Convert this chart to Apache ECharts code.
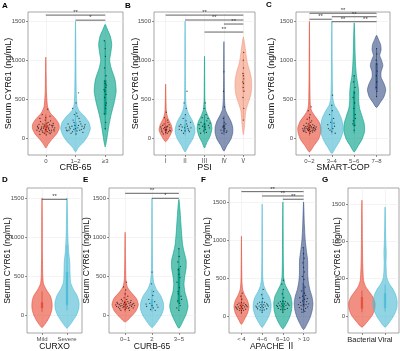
<!DOCTYPE html>
<html><head><meta charset="utf-8">
<script src="https://cdn.jsdelivr.net/npm/echarts@6/dist/echarts.min.js"></script>
<style>html,body{margin:0;padding:0;background:#fff}#c{width:400px;height:351px}</style>
</head><body><div id="c"></div>
<script>
// ================= DATA =================
// categories
const catsA = ['0','1~2','≥3'];
const catsB = ['Ⅰ','Ⅱ','Ⅲ','Ⅳ','Ⅴ'];
const catsC = ['0~2','3~4','5~6','7~8'];
const catsD = ['Mild','Severe'];
const catsE = ['0~1','2','3~5'];
const catsF = ['< 4','4~6','6~10','> 10'];
const catsG = ['Bacterial','Viral'];
const yTicks = [0,500,1000,1500];

// violin profiles: [value (ng/mL), half width (category units)]
const violinA = [
 [[-130,0],[-80,0.08],[-20,0.2],[50,0.36],[120,0.45],[180,0.44],[250,0.32],[320,0.15],[400,0.06],[500,0.035],[600,0.02],[800,0.012],[1040,0]],
 [[-180,0],[-120,0.1],[-50,0.28],[30,0.42],[120,0.5],[200,0.45],[280,0.3],[350,0.12],[420,0.05],[600,0.025],[900,0.015],[1200,0.01],[1500,0]],
 [[-115,0],[0,0.06],[150,0.12],[300,0.2],[450,0.3],[600,0.37],[750,0.33],[900,0.2],[1000,0.15],[1100,0.19],[1200,0.22],[1300,0.18],[1400,0.07],[1460,0]]
];
const violinB = [
 [[-50,0],[20,0.2],[100,0.34],[170,0.28],[250,0.12],[330,0.04],[450,0.02],[690,0]],
 [[-180,0],[-100,0.18],[-20,0.38],[60,0.5],[130,0.5],[220,0.38],[300,0.2],[380,0.08],[500,0.03],[800,0.015],[1200,0.01],[1500,0]],
 [[-130,0],[-60,0.12],[30,0.3],[120,0.38],[200,0.33],[280,0.18],[360,0.06],[500,0.02],[800,0.01],[1050,0]],
 [[-170,0],[-100,0.15],[-20,0.35],[60,0.45],[140,0.45],[220,0.35],[300,0.18],[370,0.07],[500,0.03],[800,0.015],[1240,0]],
 [[40,0],[150,0.06],[250,0.09],[350,0.13],[450,0.25],[550,0.38],[650,0.43],[750,0.42],[850,0.34],[950,0.22],[1050,0.15],[1150,0.1],[1250,0.04],[1300,0]]
];
const violinC = [
 [[-180,0],[-100,0.2],[-20,0.4],[60,0.5],[130,0.52],[210,0.42],[290,0.22],[360,0.08],[450,0.035],[700,0.02],[1000,0.012],[1500,0]],
 [[-200,0],[-120,0.18],[-40,0.35],[50,0.47],[150,0.5],[250,0.43],[350,0.27],[420,0.12],[500,0.05],[700,0.025],[1000,0.015],[1500,0]],
 [[-180,0],[-100,0.18],[-20,0.35],[80,0.46],[180,0.45],[280,0.35],[380,0.24],[480,0.2],[580,0.2],[680,0.17],[800,0.1],[950,0.06],[1100,0.04],[1300,0.025],[1480,0]],
 [[390,0],[450,0.15],[530,0.33],[620,0.41],[700,0.33],[780,0.2],[850,0.2],[930,0.28],[1000,0.22],[1060,0.14],[1130,0.2],[1200,0.18],[1270,0.08],[1320,0]]
];
const violinD = [
 [[-160,0],[-80,0.2],[0,0.33],[80,0.4],[160,0.4],[240,0.34],[320,0.18],[400,0.06],[500,0.03],[800,0.015],[1200,0.01],[1500,0]],
 [[-170,0],[-90,0.2],[0,0.38],[80,0.47],[160,0.48],[250,0.4],[330,0.25],[420,0.14],[550,0.12],[680,0.11],[800,0.07],[1000,0.035],[1250,0.02],[1500,0]]
];
const violinE = [
 [[-90,0],[-30,0.2],[50,0.4],[130,0.49],[210,0.42],[290,0.22],[360,0.08],[450,0.03],[700,0.015],[1060,0]],
 [[-160,0],[-90,0.18],[0,0.35],[80,0.43],[160,0.42],[250,0.32],[330,0.16],[420,0.06],[550,0.025],[900,0.012],[1200,0.008],[1500,0]],
 [[-170,0],[-80,0.15],[20,0.28],[110,0.34],[200,0.3],[300,0.22],[400,0.19],[500,0.22],[600,0.27],[700,0.27],[800,0.2],[900,0.14],[1050,0.1],[1200,0.07],[1350,0.04],[1480,0]]
];
const violinF = [
 [[-110,0],[-40,0.15],[40,0.3],[120,0.36],[200,0.3],[280,0.15],[350,0.06],[450,0.025],[700,0.012],[1050,0]],
 [[-150,0],[-80,0.18],[0,0.33],[80,0.42],[160,0.43],[240,0.36],[320,0.2],[400,0.08],[500,0.03],[800,0.015],[1150,0.01],[1470,0]],
 [[-170,0],[-90,0.2],[0,0.35],[80,0.42],[170,0.44],[260,0.38],[340,0.24],[420,0.1],[520,0.04],[800,0.02],[1150,0.012],[1500,0]],
 [[-180,0],[-100,0.18],[-10,0.33],[80,0.42],[170,0.45],[260,0.4],[350,0.3],[450,0.23],[550,0.2],[650,0.2],[750,0.19],[850,0.14],[1000,0.08],[1200,0.04],[1500,0]]
];
const violinG = [
 [[-150,0],[-70,0.25],[10,0.45],[90,0.55],[170,0.57],[250,0.48],[330,0.3],[400,0.15],[480,0.07],[700,0.035],[1000,0.02],[1300,0.012],[1550,0]],
 [[-150,0],[-70,0.22],[20,0.4],[100,0.5],[190,0.52],[280,0.46],[360,0.34],[430,0.18],[520,0.07],[700,0.04],[850,0.05],[1000,0.03],[1250,0.015],[1460,0]]
];

// inner box plots: [low, q1, median, q3, high]
const boxA = [[30,80,125,180,300],[30,85,135,200,350],[100,300,550,740,1250]];
const boxB = [[40,80,110,150,250],[30,80,120,170,300],[50,100,140,190,300],[40,80,120,170,280],[230,600,720,830,1100]];
const boxC = [[30,80,120,170,280],[40,100,150,250,420],[60,150,250,600,800],[530,620,800,960,1150]];
const boxD = [[40,90,120,160,300],[60,130,200,550,900]];
const boxE = [[40,90,130,180,300],[40,90,130,200,330],[60,150,300,600,850]];
const boxF = [[40,80,120,170,280],[40,90,130,180,300],[40,90,140,200,340],[40,120,200,400,900]];
const boxG = [[50,100,160,250,340],[60,110,180,300,420]];

// jittered observations: [jitter (category units), value]
const pointsA = [
 [[-0.22,85],[-0.15,120],[-0.05,60],[0.04,140],[0.12,95],[0.2,160],[0.27,110],[-0.28,150],[-0.1,180],[0.08,200],[0.18,75],[-0.2,45],[0,105],[0.1,130],[-0.12,90],[0.25,185],[-0.25,120],[0.15,55],[-0.05,165],[0.05,80],[-0.18,210],[0.22,140],[-0.08,125],[0.13,170],[-0.3,100],[0.3,130],[0.02,40],[-0.14,140],[0.09,115],[-0.02,230],[0.19,100],[-0.23,175],[0.07,155],[-0.1,70],[0.16,220],[0.28,90],[-0.17,105],[0.04,190],[-0.06,145],[0.11,65],[-0.26,135],[0.24,160],[0,260],[-0.12,300],[0.06,370],[0.14,280],[-0.2,250]],
 [[-0.3,100],[-0.2,140],[-0.1,80],[0,120],[0.1,160],[0.2,110],[0.3,140],[-0.25,180],[-0.15,60],[-0.05,200],[0.05,90],[0.15,210],[0.25,70],[-0.32,130],[0.32,170],[-0.12,150],[0.08,130],[0.18,180],[-0.22,100],[0.02,50],[-0.08,230],[0.12,250],[0.28,120],[-0.18,120],[0.22,150],[-0.02,160],[0.06,280],[-0.28,90],[0.14,100],[-0.06,110],[0.04,320],[-0.1,380],[0.02,450],[0.1,580],[-0.04,300]],
 [[0,120],[0.02,200],[-0.03,310],[0.01,380],[0.04,450],[-0.02,520],[0.03,560],[-0.04,620],[0.02,650],[0,700],[-0.01,730],[0.03,800],[-0.02,900],[0.01,1050],[0,1150],[-0.03,1250],[0.02,420],[-0.01,600],[0.04,680]]
];
const pointsB = [
 [[-0.2,90],[-0.1,120],[0,70],[0.1,150],[0.2,100],[-0.15,160],[0.05,110],[0.15,80],[-0.05,135],[0.22,130],[-0.22,115],[0.08,60],[-0.08,180],[0.12,200],[-0.18,75],[0.02,95],[0.18,170],[-0.12,50],[0.06,140],[-0.02,105],[0.25,90],[-0.25,140],[0.1,230],[-0.06,260],[0.03,330]],
 [[-0.3,110],[-0.15,140],[0,90],[0.15,120],[0.3,130],[-0.22,170],[0.08,180],[0.22,80],[-0.08,60],[0.05,220],[-0.3,150],[0.28,200],[-0.1,250],[0.12,150],[-0.02,130],[0.18,100],[-0.18,95],[0.02,300],[-0.05,450],[0.06,380],[0.1,600]],
 [[-0.25,120],[-0.1,150],[0.05,110],[0.2,160],[-0.18,200],[0.12,220],[0,180],[0.25,130],[-0.05,90],[0.1,70],[-0.2,60],[0.18,250],[-0.12,260],[0.02,140],[-0.28,170],[0.28,190],[0.08,300],[-0.02,380],[0.04,450]],
 [[-0.15,100],[-0.05,140],[0.05,120],[0.15,90],[-0.1,60],[0.1,180],[0,150],[0.02,200],[-0.03,250],[0.12,70],[0.03,400],[-0.02,600],[0,850]],
 [[0,230],[0.02,380],[-0.02,520],[0.03,600],[-0.01,650],[0.01,700],[-0.03,720],[0.02,760],[0,800],[-0.02,830],[0.01,900],[0,1000],[0.02,1100]]
];
const pointsC = [
 [[-0.3,120],[-0.2,90],[-0.1,150],[0,110],[0.1,130],[0.2,100],[0.3,140],[-0.25,160],[-0.15,70],[-0.05,180],[0.05,85],[0.15,170],[0.25,120],[-0.28,100],[0.28,110],[-0.12,125],[0.08,145],[0.18,135],[-0.22,130],[0.02,60],[-0.08,105],[0.12,95],[0.22,155],[-0.18,145],[0.16,115],[-0.02,135],[0.06,200],[-0.26,85],[0.14,75],[-0.06,120],[0.04,160],[-0.14,190],[0.24,90],[-0.04,95],[0.1,220],[-0.1,240],[0,260],[0.2,130],[-0.2,115],[0.03,300],[-0.05,350],[0.08,400]],
 [[-0.15,120],[0,80],[0.12,150],[-0.05,200],[0.08,250],[-0.1,300],[0.15,60],[0.02,350],[-0.18,170],[0.05,120],[0.1,190],[-0.08,100],[0,420],[0.03,550]],
 [[0,100],[0.03,160],[-0.04,220],[0.05,300],[-0.02,380],[0.02,450],[-0.05,520],[0.01,580],[0.04,650],[-0.03,720],[0,800],[0.06,250],[-0.06,180]],
 [[0,530],[0.02,600],[-0.02,650],[0.01,720],[-0.01,800],[0.03,860],[0,950],[-0.02,1000],[0.01,1080],[0,1150]]
];
const pointsD = [[],[]];
const pointsE = [
 [[-0.35,130],[-0.25,100],[-0.15,150],[-0.05,110],[0.05,140],[0.15,95],[0.25,130],[0.35,120],[-0.3,160],[-0.2,80],[-0.1,180],[0,70],[0.1,170],[0.2,160],[0.3,90],[-0.32,110],[0.32,150],[-0.12,120],[0.08,110],[0.18,125],[-0.22,135],[0.02,130],[-0.08,95],[0.12,85],[0.22,185],[-0.18,115],[0.28,140],[-0.02,160],[0.06,200],[-0.28,145],[0.14,150],[-0.06,140],[0.04,90],[-0.14,200],[0.24,110],[-0.04,220],[0.1,240],[-0.16,60],[0.16,60],[0,270],[0.02,320],[-0.06,360],[0.05,420]],
 [[-0.2,110],[-0.08,150],[0.05,90],[0.18,130],[-0.12,200],[0.1,170],[0,120],[0.22,100],[-0.22,140],[0.03,250],[-0.05,70],[0.12,60],[0.06,300],[-0.02,400],[0,550]],
 [[0,60],[0.05,120],[-0.05,180],[0.08,240],[-0.03,300],[0.02,350],[-0.07,420],[0.04,480],[0,520],[-0.02,580],[0.06,620],[-0.04,680],[0.01,750],[0,850],[0.03,150],[-0.08,90],[0.1,200],[-0.02,270]]
];
const pointsF = [
 [[-0.28,120],[-0.2,150],[-0.12,170],[0,180],[0.12,170],[0.2,150],[0.28,120],[-0.2,90],[-0.1,75],[0,70],[0.1,75],[0.2,90],[-0.15,120],[0,120],[0.15,120],[-0.06,140],[0.06,100],[-0.08,100],[0.08,140],[0.02,220],[-0.03,260],[0.04,300],[-0.24,105],[0.24,135],[0,40]],
 [[-0.3,130],[-0.22,160],[-0.12,180],[0,185],[0.12,180],[0.22,160],[0.3,130],[-0.22,95],[-0.1,80],[0,75],[0.1,80],[0.22,95],[-0.15,130],[0,130],[0.15,130],[-0.06,150],[0.06,110],[-0.08,110],[0.08,150],[0.03,230],[-0.02,280],[0.05,350],[-0.26,115],[0.26,145],[0,50]],
 [[-0.3,140],[-0.22,170],[-0.12,190],[0,195],[0.12,190],[0.22,170],[0.3,140],[-0.22,100],[-0.1,85],[0,80],[0.1,85],[0.22,100],[-0.15,140],[0,140],[0.15,140],[-0.06,160],[0.06,120],[-0.08,120],[0.08,160],[0.04,240],[-0.03,290],[0.02,350],[-0.05,420],[0.03,470],[-0.26,125],[0.26,155],[0,50]],
 [[-0.25,150],[-0.15,180],[-0.05,200],[0.05,220],[0.15,190],[0.25,160],[-0.2,110],[-0.1,90],[0,80],[0.1,100],[0.2,120],[-0.12,140],[0,150],[0.12,150],[-0.05,260],[0.05,300],[-0.1,330],[0.08,380],[-0.03,420],[0.02,480],[-0.06,520],[0.04,580],[0,640],[-0.04,700],[0.03,760],[0,820],[-0.02,900],[0.18,230],[-0.18,240],[0.06,60],[-0.08,50],[0.1,270]]
];
const pointsG = [[],[]];

// significance brackets: [from category, to category, value, label]
const sigA = [[1,3,1580,'**'],[2,3,1515,'*']];
const sigB = [[1,5,1580,'**'],[2,5,1517,'**'],[4,5,1465,'**'],[3,5,1362,'**']];
const sigC = [[1,4,1604,'**'],[2,4,1559,'**'],[1,2,1527,'**'],[2,3,1495,'**'],[3,4,1495,'**']];
const sigD = [[1,2,1483,'**']];
const sigE = [[1,3,1560,'**'],[2,3,1496,'*']];
const sigF = [[1,4,1636,'**'],[2,4,1579,'**'],[3,4,1536,'**']];
const sigG = [];

const yTitle = 'Serum CYR61 (ng/mL)';

// ================= STYLE / LAYOUT =================
const RED='#E64B35', CYAN='#4DBBD5', GREEN='#00A087', NAVY='#3C5488', SALMON='#F39B7F';
const FONT = '"Liberation Sans", Arial, "Noto Sans CJK SC", sans-serif';
function rgba(hex,a){const n=parseInt(hex.slice(1),16);return `rgba(${n>>16},${(n>>8)&255},${n&255},${a})`;}

const panels = [
 {letter:'A', cats:catsA, xName:'CRB-65', vio:violinA, box:boxA, pts:pointsA, sig:sigA, col:[RED,CYAN,GREEN],
  L:{left:28,top:12,width:95,height:143,ymin:-220,ymax:1620,yGap:15,xGap:8,ns:9,lx:2,ly:2}},
 {letter:'B', cats:catsB, xName:'PSI', vio:violinB, box:boxB, pts:pointsB, sig:sigB, col:[RED,CYAN,GREEN,NAVY,SALMON],
  L:{left:154,top:12,width:101,height:143,ymin:-220,ymax:1620,yGap:14,xGap:8,ns:9,lx:125,ly:2}},
 {letter:'C', cats:catsC, xName:'SMART-COP', vio:violinC, box:boxC, pts:pointsC, sig:sigC, col:[RED,CYAN,GREEN,NAVY],
  L:{left:296,top:12,width:94,height:143,ymin:-220,ymax:1620,yGap:20,xGap:8,ns:9,lx:266,ly:1}},
 {letter:'D', cats:catsD, xName:'CURXO', vio:violinD, box:boxD, pts:pointsD, sig:sigD, col:[RED,CYAN],
  L:{left:27,top:188,width:55,height:145,ymin:-231,ymax:1628,yGap:15,xGap:9,ns:8.5,lx:2,ly:176}},
 {letter:'E', cats:catsE, xName:'CURB-65', vio:violinE, box:boxE, pts:pointsE, sig:sigE, col:[RED,CYAN,GREEN],
  L:{left:109,top:188,width:86,height:145,ymin:-231,ymax:1628,yGap:18,xGap:9,ns:8.5,lx:83,ly:176}},
 {letter:'F', cats:catsF, xName:'APACHE Ⅱ', vio:violinF, box:boxF, pts:pointsF, sig:sigF, col:[RED,CYAN,GREEN,NAVY],
  L:{left:229,top:188,width:87,height:145,ymin:-224,ymax:1684,yGap:17,xGap:9,ns:8.5,lx:201,ly:176}},
 {letter:'G', cats:catsG, xName:'', vio:violinG, box:boxG, pts:pointsG, sig:sigG, col:[RED,CYAN],
  L:{left:348,top:188,width:51,height:145,ymin:-228,ymax:1714,yGap:6,xGap:9,ns:8.5,lx:322,ly:176,bigX:true}}
];

const grid=[], xAxis=[], yAxis=[], series=[], title=[];
panels.forEach((p,i)=>{
  const L=p.L, n=p.cats.length, idx=p.cats.map((c,k)=>k+1);
  grid.push({left:L.left, top:L.top, width:L.width, height:L.height, show:true, borderColor:'#8f8f8f', borderWidth:0.8, outerBoundsMode:'none', containLabel:false});
  xAxis.push({type:'value', gridIndex:i, min:0.4, max:n+0.6, position:'bottom',
    axisLine:{show:false, onZero:false},
    axisTick:{show:true, customValues:idx, length:2, lineStyle:{color:'#444', width:0.6}},
    axisLabel:{customValues:idx, formatter:v=>p.cats[Math.round(v)-1]||'', fontSize:L.bigX?7.5:6, color:L.bigX?'#222':'#4d4d4d', margin:3, fontFamily:FONT, hideOverlap:false},
    splitLine:{show:true, lineStyle:{color:'#ececec', width:0.6}},
    name:p.xName, nameLocation:'middle', nameGap:L.xGap, nameMoveOverlap:false,
    nameTextStyle:{fontSize:L.ns, color:'#111', fontFamily:FONT}});
  yAxis.push({type:'value', gridIndex:i, min:L.ymin, max:L.ymax, position:'left',
    axisLine:{show:false, onZero:false},
    axisTick:{show:true, customValues:yTicks, length:2, lineStyle:{color:'#444', width:0.6}},
    axisLabel:{customValues:yTicks, formatter:v=>String(v), fontSize:6, color:'#4d4d4d', margin:3, fontFamily:FONT, hideOverlap:false},
    splitLine:{show:true, lineStyle:{color:'#ececec', width:0.6}},
    name:yTitle, nameLocation:'middle', nameGap:L.yGap, nameMoveOverlap:false,
    nameTextStyle:{fontSize:L.ns, color:'#111', fontFamily:FONT}});
  title.push({text:p.letter, left:L.lx, top:L.ly, padding:0, textStyle:{fontSize:8, fontWeight:'bold', color:'#000', fontFamily:FONT}});

  // violins
  series.push({type:'custom', xAxisIndex:i, yAxisIndex:i, z:1, clip:true, silent:true,
    data:p.vio.map((v,k)=>[k+1, v[0][0]]),
    renderItem:(params,api)=>{
      const k=params.dataIndex, prof=p.vio[k], c=k+1;
      const right=prof.map(([y,w])=>api.coord([c+w,y]));
      const left=prof.slice(1,-1).reverse().map(([y,w])=>api.coord([c-w,y]));
      return {type:'polygon', shape:{points:right.concat(left), smooth:0.2},
        style:{fill:rgba(p.col[k],0.62), stroke:p.col[k], lineWidth:0.6}};
    }});
  // inner boxes
  series.push({type:'custom', xAxisIndex:i, yAxisIndex:i, z:2, clip:true, silent:true,
    data:p.box.map((b,k)=>[k+1].concat(b)),
    renderItem:(params,api)=>{
      const k=params.dataIndex, b=p.box[k], c=k+1, w=0.035;
      const lo=api.coord([c,b[0]]), hi=api.coord([c,b[4]]);
      const a=api.coord([c-w,b[3]]), d=api.coord([c+w,b[1]]);
      return {type:'group', children:[
        {type:'line', shape:{x1:lo[0],y1:lo[1],x2:hi[0],y2:hi[1]}, style:{stroke:p.col[k], lineWidth:0.8}},
        {type:'rect', shape:{x:a[0],y:a[1],width:Math.max(1.5,d[0]-a[0]),height:d[1]-a[1]}, style:{fill:rgba(p.col[k],0.9), stroke:p.col[k], lineWidth:0.4}}
      ]};
    }});
  // points
  const pd=[];
  p.pts.forEach((grp,k)=>grp.forEach(([dx,y])=>pd.push([k+1+dx,y])));
  series.push({type:'scatter', xAxisIndex:i, yAxisIndex:i, z:3, silent:true, symbolSize:1.3,
    itemStyle:{color:'#111', opacity:0.75}, data:pd});
  // brackets
  series.push({type:'custom', xAxisIndex:i, yAxisIndex:i, z:4, clip:false, silent:true,
    data:p.sig.map(s=>[s[0],s[2]]),
    renderItem:(params,api)=>{
      const s=p.sig[params.dataIndex];
      const p1=api.coord([s[0],s[2]]), p2=api.coord([s[1],s[2]]);
      return {type:'group', children:[
        {type:'line', shape:{x1:p1[0],y1:p1[1],x2:p2[0],y2:p2[1]}, style:{stroke:'#3a3a3a', lineWidth:0.8}},
        {type:'text', x:(p1[0]+p2[0])/2, y:p1[1]+0.5, style:{text:s[3], fontSize:6, fill:'#3a3a3a', align:'center', verticalAlign:'bottom', fontFamily:FONT}}
      ]};
    }});
});

const chart = echarts.init(document.getElementById('c'));
chart.setOption({animation:false, backgroundColor:'#fff', title, grid, xAxis, yAxis, series});
</script></body></html>
